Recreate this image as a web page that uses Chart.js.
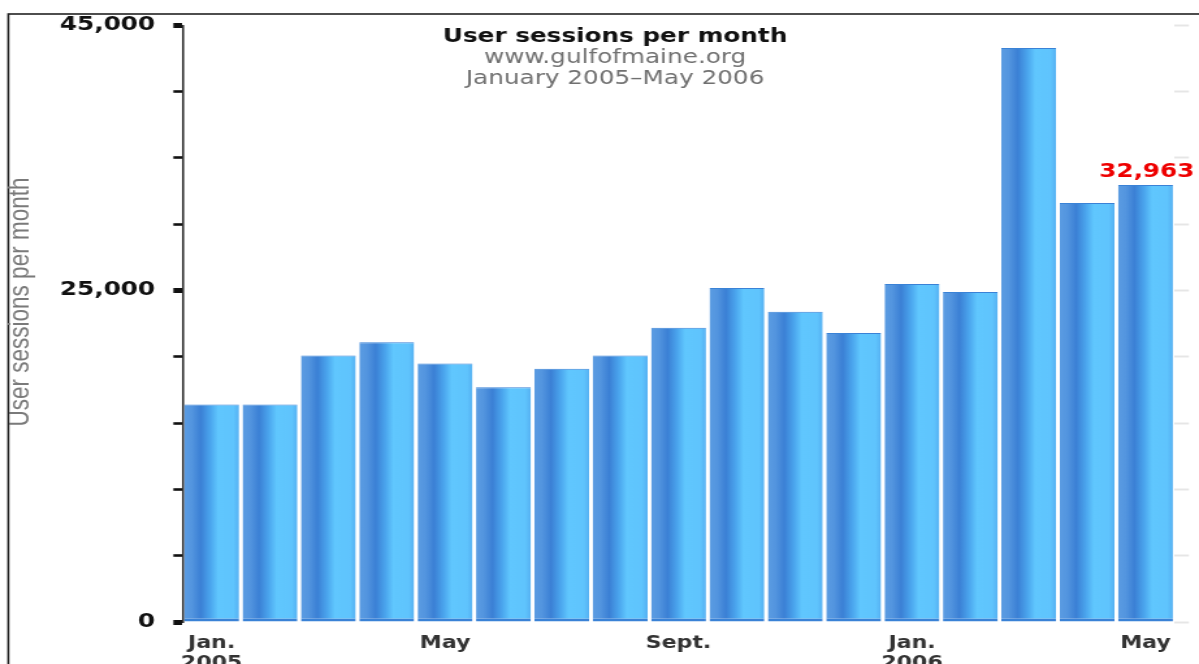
<!DOCTYPE html>
<html>
<head>
<meta charset="utf-8">
<script src="https://cdn.jsdelivr.net/npm/chart.js@4/dist/chart.umd.min.js"></script>
<style>
  html, body { margin: 0; padding: 0; background: #fff; overflow: hidden; }
  /* the original picture is stretched sideways, so the chart is too */
  .stretch { width: 922px; height: 664px; transform: scaleX(1.3004); transform-origin: 0 0; }
</style>
</head>
<body>
<div class="stretch">
  <canvas id="sessionsChart" width="922" height="664"></canvas>
</div>
<script>
const months = ['Jan 2005', 'Feb 2005', 'Mar 2005', 'Apr 2005', 'May 2005', 'Jun 2005',
  'Jul 2005', 'Aug 2005', 'Sep 2005', 'Oct 2005', 'Nov 2005', 'Dec 2005',
  'Jan 2006', 'Feb 2006', 'Mar 2006', 'Apr 2006', 'May 2006'];
const sessions = [16400, 16400, 20100, 21100, 19500, 17700, 19100, 20100, 22200,
  25200, 23400, 21800, 25500, 24900, 43300, 31600, 32963];
const xTickLabels = [['Jan.', '2005'], '', '', '', 'May', '', '', '', 'Sept.', '', '', '',
  ['Jan.', '2006'], '', '', '', 'May'];
const yLabelledTicks = [0, 25000, 45000];
const titleLines = ['User sessions per month', 'www.gulfofmaine.org', 'January 2005\u2013May 2006'];
const yAxisTitle = 'User sessions per month';
const highlightIndex = 16; // last month gets its value printed

const BAR_PCT = 0.94;

function barGradient(c) {
  const chart = c.chart;
  const xs = chart.scales.x;
  if (!xs || c.dataIndex === undefined) return '#4a9be6';
  const cx = xs.getPixelForValue(c.dataIndex);
  const half = xs.width / months.length * BAR_PCT / 2;
  if (!isFinite(cx) || !isFinite(half) || half <= 0) return '#4a9be6';
  const g = chart.ctx.createLinearGradient(cx - half, 0, cx + half, 0);
  g.addColorStop(0, '#5b9ce2');
  g.addColorStop(0.14, '#5395df');
  g.addColorStop(0.3, '#3b80d5');
  g.addColorStop(0.48, '#4ba6ee');
  g.addColorStop(0.62, '#60c7fe');
  g.addColorStop(0.9, '#5fc4fd');
  g.addColorStop(1, '#55b0f2');
  return g;
}

// frame, titles, axis title and the value over the last bar
const decorations = {
  id: 'decorations',
  beforeDraw(chart) {
    const ctx = chart.ctx;
    ctx.save();
    ctx.strokeStyle = '#222';
    ctx.lineWidth = 1.6;
    ctx.strokeRect(6.4, 14, 2000, 2000);
    ctx.restore();
  },
  afterDraw(chart) {
    const ctx = chart.ctx;
    ctx.save();
    ctx.textAlign = 'center';
    ctx.textBaseline = 'middle';
    const tx = 473;
    ctx.fillStyle = '#111';
    ctx.font = 'bold 19px "DejaVu Sans"';
    ctx.fillText(titleLines[0], tx, 37);
    ctx.fillStyle = '#707070';
    ctx.font = '19px "DejaVu Sans"';
    ctx.fillText(titleLines[1], tx, 58);
    ctx.fillText(titleLines[2], tx, 79);

    // rotated axis title, sitting a little above the middle like the original
    ctx.save();
    ctx.translate(16, 302);
    ctx.rotate(-Math.PI / 2);
    ctx.fillStyle = '#7a7a7a';
    ctx.font = '22.5px "Liberation Sans"';
    ctx.fillText(yAxisTitle, 0, 0);
    ctx.restore();

    const bar = chart.getDatasetMeta(0).data[highlightIndex];
    ctx.fillStyle = '#ee0000';
    ctx.font = 'bold 19px "DejaVu Sans"';
    ctx.textBaseline = 'alphabetic';
    ctx.fillText(sessions[highlightIndex].toLocaleString('en-US'), bar.x + 1, bar.y - 8);
    ctx.restore();
  }
};

const ctx = document.getElementById('sessionsChart').getContext('2d');
new Chart(ctx, {
  type: 'bar',
  data: {
    labels: months,
    datasets: [{
      label: 'User sessions per month',
      data: sessions,
      backgroundColor: barGradient,
      borderColor: '#3a82d6',
      borderWidth: { top: 1, bottom: 3, left: 0, right: 0 },
      borderSkipped: false,
      barPercentage: BAR_PCT,
      categoryPercentage: 1
    }]
  },
  options: {
    responsive: false,
    animation: false,
    devicePixelRatio: 1,
    layout: { padding: { left: 2, right: 6.7, top: 23, bottom: 0 } },
    plugins: {
      legend: { display: false },
      tooltip: { enabled: false }
    },
    scales: {
      x: {
        grid: { display: false, drawTicks: false },
        border: { display: false },
        ticks: {
          autoSkip: false,
          maxRotation: 0,
          padding: 11,
          color: '#333',
          font: { family: 'DejaVu Sans', weight: 'bold', size: 17, lineHeight: 1.2 },
          callback: (v, i) => xTickLabels[i]
        },
        afterFit: s => { s.height = 42; }
      },
      y: {
        min: 0,
        max: 45000,
        ticks: {
          stepSize: 5000,
          padding: 14,
          color: '#111',
          font: { family: 'DejaVu Sans', weight: 'bold', size: 19 },
          callback: v => yLabelledTicks.includes(v) ? v.toLocaleString('en-US') : ''
        },
        grid: {
          drawOnChartArea: false,
          tickLength: 7,
          tickColor: '#111',
          tickWidth: c => yLabelledTicks.includes(c.tick.value) ? 5 : 2.6
        },
        border: { display: true, color: '#333', width: 1.6 },
        afterFit: s => { s.width = 138.3; }
      },
      y2: {
        position: 'right',
        min: 0,
        max: 45000,
        ticks: { display: false, stepSize: 5000 },
        grid: { drawOnChartArea: false, tickLength: 11, tickColor: '#e6e6e6', tickWidth: 2 },
        border: { display: false },
        afterFit: s => { s.width = 12; }
      }
    }
  },
  plugins: [decorations]
});
</script>
</body>
</html>
